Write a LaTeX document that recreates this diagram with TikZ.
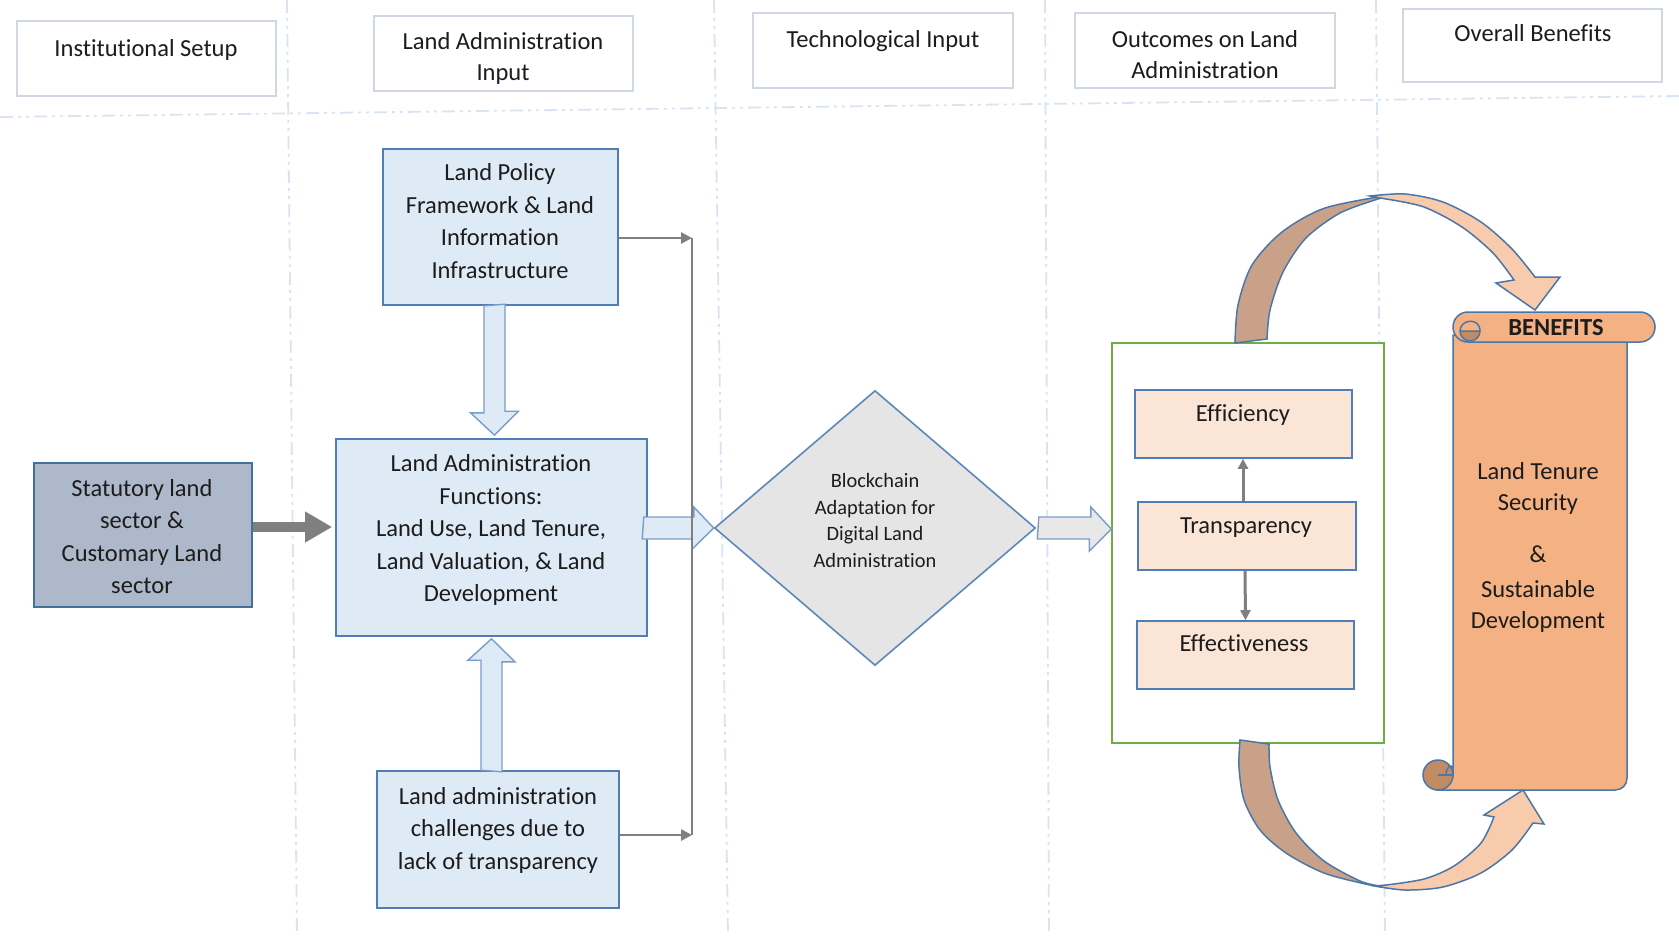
\documentclass[tikz,border=0pt]{standalone}
\usepackage{fontspec}
\setmainfont{Carlito}[Ligatures=NoCommon]
\usetikzlibrary{shapes.geometric,arrows.meta,calc}

\definecolor{sepc}{HTML}{D9E4F2}
\definecolor{headc}{HTML}{CFD7E3}
\definecolor{txtc}{HTML}{1C1C1C}
\definecolor{boxfill}{HTML}{DEEBF7}
\definecolor{boxedge}{HTML}{4F7DB5}
\definecolor{statfill}{HTML}{ADB9CA}
\definecolor{statedge}{HTML}{41719C}
\definecolor{diafill}{HTML}{E5E5E5}
\definecolor{diaedge}{HTML}{5D88BA}
\definecolor{barredge}{HTML}{7A9CC9}
\definecolor{barrgray}{HTML}{E8E8E8}
\definecolor{gcol}{HTML}{7F7F7F}
\definecolor{outgreen}{HTML}{70AD47}
\definecolor{peach}{HTML}{FBE5D6}
\definecolor{scrollfill}{HTML}{F4B183}
\definecolor{scrolledge}{HTML}{4A76A8}
\definecolor{curlfill}{HTML}{C38B61}
\definecolor{ribdark}{HTML}{C9A189}
\definecolor{riblight}{HTML}{F8CBAD}

\begin{document}
\begin{tikzpicture}[x=1pt,y=-1pt,
  sepline/.style={draw=sepc, line width=1.8pt,
    dash pattern=on 13pt off 5pt on 3pt off 5pt on 3pt off 5pt},
  headbox/.style={draw=headc, line width=1.8pt, fill=white, rectangle, inner sep=0pt},
  txt/.style={inner sep=0pt, align=center, text=txtc, yshift=-2.4pt,
    font=\fontsize{24.5}{32.5}\selectfont},
  hdtxt/.style={txt, font=\fontsize{24.5}{30.5}\selectfont},
  smalltxt/.style={txt, font=\fontsize{20.4}{26.7}\selectfont},
  bluebox/.style={draw=boxedge, line width=1.6pt, fill=boxfill, rectangle, inner sep=0pt},
  statbox/.style={draw=statedge, line width=1.6pt, fill=statfill, rectangle, inner sep=0pt},
  peachbox/.style={draw=boxedge, line width=1.6pt, fill=peach, rectangle, inner sep=0pt},
  blockarrow/.style={draw=barredge, line width=1.4pt, fill=boxfill, line join=miter},
  grayarrow/.style={draw=barredge, line width=1.4pt, fill=barrgray, line join=miter},
  gline/.style={draw=gcol, line width=2.6pt},
  ribbon/.style={draw=scrolledge, line width=1.5pt},
]
\useasboundingbox (0,0) rectangle (1679,935);
\fill[white] (0,0) rectangle (1679,935);

% column and header separators
\draw[sepline] (0,117) -- (1679,96);
\draw[sepline] (287,0) -- (297,935);
\draw[sepline] (714,0) -- (728,935);
\draw[sepline] (1045,0) -- (1049,935);
\draw[sepline] (1376,0) -- (1385,935);

% column headers
\node[headbox, minimum width=259pt, minimum height=75pt] (h1) at (146.5,58.5) {};
\node[headbox, minimum width=259pt, minimum height=75pt] (h2) at (503.5,53.5) {};
\node[headbox, minimum width=260pt, minimum height=75pt] (h3) at (883,50.5) {};
\node[headbox, minimum width=260pt, minimum height=75pt] (h4) at (1205,50.5) {};
\node[headbox, minimum width=259pt, minimum height=73pt] (h5) at (1532.5,45.5) {};
\node[hdtxt] (h1t) at (146,48) {Institutional Setup};
\node[hdtxt] (h2t) at (503,56) {Land Administration\\Input};
\node[hdtxt] (h3t) at (883,39) {Technological Input};
\node[hdtxt] (h4t) at (1205,52) {Outcomes on Land\\Administration};
\node[hdtxt] (h5t) at (1533,31) {Overall Benefits};

% land administration input boxes
\node[bluebox, minimum width=235pt, minimum height=156pt] (policy) at (500.5,227) {};
\node[txt] (policyt) at (500,218.5) {Land Policy\\Framework \& Land\\Information\\Infrastructure};
\node[bluebox, minimum width=311pt, minimum height=197pt] (functions) at (491.5,537.5) {};
\node[txt] (functionst) at (491,528) {Land Administration\\Functions:\\Land Use, Land Tenure,\\Land Valuation, \& Land\\Development};
\node[bluebox, minimum width=242pt, minimum height=137pt] (challenges) at (498,839.5) {};
\node[txt] (challengest) at (498,828) {Land administration\\challenges due to\\lack of transparency};

% institutional setup box
\node[statbox, minimum width=218pt, minimum height=144pt] (statutory) at (143,535) {};
\node[txt] (statutoryt) at (142,534) {Statutory land\\sector \&\\Customary Land\\sector};

% technological input
\node[diamond, draw=diaedge, fill=diafill, line width=1.6pt, inner sep=0pt,
      minimum width=321pt, minimum height=275pt] (chain) at (875,528) {};
\node[smalltxt] (chaint) at (875,518) {Blockchain\\Adaptation for\\Digital Land\\Administration};

% outcomes
\node[draw=outgreen, line width=1.4pt, fill=white, rectangle, inner sep=0pt,
      minimum width=272pt, minimum height=400pt] (green) at (1248,543) {};
\node[peachbox, minimum width=217pt, minimum height=68pt] (efficiency) at (1243.5,424) {};
\node[txt] (efficiencyt) at (1243,413) {Efficiency};
\node[peachbox, minimum width=218pt, minimum height=68pt] (transparency) at (1247,536) {};
\node[txt] (transparencyt) at (1246,525) {Transparency};
\node[peachbox, minimum width=217pt, minimum height=68pt] (effectiveness) at (1245.5,655) {};
\node[txt] (effectivenesst) at (1244,641) {Effectiveness};

% connectors between the input boxes
\draw[blockarrow] ($(policy.south)+(-16.5,0)$) -- ++(0,107) -- ++(-13.5,0)
  -- ($(functions.north)+(3,-3)$) -- ++(24,-24) -- ++(-13.5,0) -- ++(0,-107) -- cycle;
\draw[blockarrow] ($(challenges.north)+(-17,0)$) -- ++(0,-110) -- ++(-13,0)
  -- ($(functions.south)+(0,2)$) -- ++(23.5,23) -- ++(-13,0) -- ++(0,110) -- cycle;
\draw[blockarrow] ($(functions.east)+(-4,-20.5)$) -- ++(50,0) -- ++(0,-10)
  -- (chain.west) -- ++(-21.5,21) -- ++(0,-10) -- ++(-50,0) -- cycle;
\draw[grayarrow] ($(chain.east)+(2.5,-11)$) -- ++(52,0) -- ++(0,-10)
  -- ($(green.west |- chain.east)+(0,1)$) -- ++(-22,22) -- ++(0,-12) -- ++(-52,0) -- cycle;

% bracket connector on the right of the input column
\coordinate (bustop) at (692,238);
\coordinate (busbot) at (692,835);
\draw[gline] (bustop) -- (busbot);
\draw[gline, -{Triangle[length=11pt,width=11pt]}] (policy.east |- bustop) -- (bustop);
\draw[gline, -{Triangle[length=11pt,width=11pt]}] (challenges.east |- busbot) -- (busbot);

% institutional setup feeds the functions
\draw[draw=gcol, line width=10pt, -{Triangle[length=27pt,width=29pt]}]
  ($(statutory.east)+(0,-8)$) -- ($(functions.west)+(-3,-10.5)$);

% links among outcomes
\draw[draw=gcol, line width=3pt, -{Triangle[length=10pt,width=10pt]}]
  ($(transparency.north)+(-4,0)$) -- ($(efficiency.south)+(-0.5,0)$);
\draw[draw=gcol, line width=3pt, -{Triangle[length=10pt,width=10pt]}]
  ($(transparency.south)+(-2,0)$) -- (effectiveness.north);

% benefits scroll: body
\filldraw[draw=scrolledge, line width=1.5pt, fill=scrollfill]
  (1453,335) -- (1453,775) -- (1438,790) -- (1615,790)
  .. controls (1622,790) and (1627,785) .. (1627,778) -- (1627,335) -- cycle;
% bottom curl
\filldraw[draw=scrolledge, line width=1.5pt, fill=curlfill] (1438,775) circle[radius=15pt];
\draw[draw=scrolledge, line width=1.5pt] (1438,775) -- (1453,775);
\draw[draw=scrolledge, line width=1.5pt] (1446,775) .. controls (1446,766) and (1452,764) .. (1453,768);
% top roll
\filldraw[draw=scrolledge, line width=1.5pt, fill=scrollfill, rounded corners=14.9pt]
  (1453,312) rectangle (1655,342);
\filldraw[draw=scrolledge, line width=1.5pt, fill=curlfill]
  (1460,331) arc[start angle=180, end angle=360, radius=10pt] -- cycle;
\draw[draw=scrolledge, line width=1.5pt]
  (1460,331) .. controls (1460,319) and (1480,317) .. (1480,331);
\node[txt, font=\fontsize{24.5}{30}\selectfont\bfseries] (benefitst) at (1556,325) {BENEFITS};
\node[txt, font=\fontsize{24.5}{31}\selectfont] (benefitsbody) at (1538,545)
  {Land Tenure\\Security\\[21pt]\&\\[4pt]Sustainable\\Development};

% curved arrow from the outcomes (top)
\filldraw[ribbon, fill=ribdark]
  plot[smooth] coordinates {(1235,343) (1238,305) (1252,265) (1282,232) (1325,208) (1390,195)}
  -- plot[smooth] coordinates {(1378,199) (1340,213) (1306,238) (1283,272) (1270,310) (1267,339)}
  -- cycle;
\filldraw[ribbon, fill=riblight]
  plot[smooth] coordinates {(1370,196) (1405,194) (1443,202) (1481,222) (1512,249) (1535,277)}
  -- (1560,277) -- (1535,310) -- (1496,283)
  -- plot[smooth] coordinates {(1514,280) (1493,253) (1462,227) (1424,207) (1386,199)}
  -- cycle;

% curved arrow from the outcomes (bottom)
\filldraw[ribbon, fill=ribdark]
  plot[smooth] coordinates {(1240,740) (1239,767) (1244,800) (1260,830) (1286,853) (1324,873) (1370,885) (1392,888)}
  -- plot[smooth] coordinates {(1380,886) (1360,881) (1324,861) (1296,833) (1278,800) (1270,767) (1269,744)}
  -- cycle;
\filldraw[ribbon, fill=riblight]
  plot[smooth] coordinates {(1375,886) (1405,890) (1443,887) (1481,873) (1512,850) (1533,823)}
  -- (1544,824) -- (1523,790) -- (1484,815)
  -- plot[smooth] coordinates {(1494,817) (1481,843) (1454,866) (1424,879) (1386,885)}
  -- cycle;
\end{tikzpicture}
\end{document}
